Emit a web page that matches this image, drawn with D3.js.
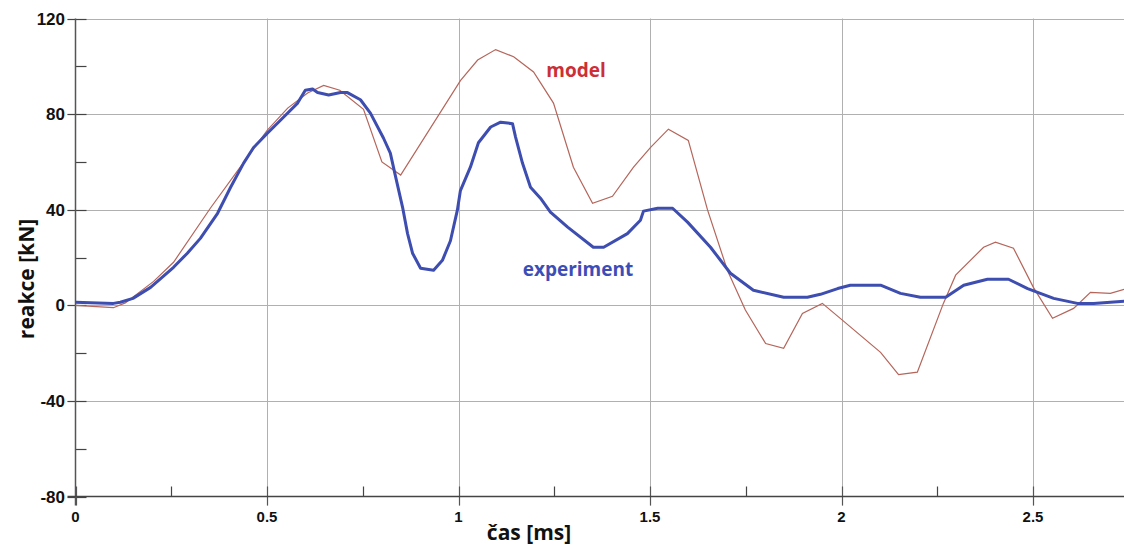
<!DOCTYPE html>
<html><head><meta charset="utf-8">
<script src="https://cdn.jsdelivr.net/npm/d3@7"></script>
<style>body{margin:0;background:#fff}svg{display:block}</style>
</head><body>
<svg id="c" width="1124" height="546"></svg>
<script>
const modelT = [0,0.099,0.13,0.204,0.256,0.352,0.449,0.501,0.554,0.606,0.648,0.69,0.752,0.80,0.849,1.005,1.05,1.097,1.144,1.196,1.248,1.30,1.35,1.402,1.457,1.501,1.548,1.60,1.65,1.702,1.749,1.802,1.849,1.898,1.95,2.003,2.102,2.149,2.198,2.266,2.298,2.371,2.402,2.449,2.501,2.551,2.606,2.65,2.702,2.739];
const modelV = [0,-1,1,10,18,40.6,62,73.3,82.5,88.8,92,90,82,60,54.5,94,102.6,107,104,97.6,84.6,57.8,42.7,45.6,57.8,66,73.7,69,40,14.7,-2,-16,-18,-3.4,0.8,-6.3,-19.7,-29,-28,0.8,12.6,24.3,26.4,23.9,7.5,-5.4,-1.3,5.4,5,6.7];
const expT = [0,0.099,0.117,0.15,0.196,0.256,0.292,0.326,0.371,0.405,0.439,0.465,0.501,0.543,0.58,0.6,0.619,0.632,0.661,0.692,0.71,0.744,0.77,0.804,0.822,0.836,0.854,0.867,0.88,0.901,0.935,0.958,0.979,0.997,1.005,1.031,1.052,1.084,1.11,1.141,1.149,1.167,1.188,1.214,1.24,1.285,1.352,1.379,1.441,1.475,1.483,1.52,1.559,1.598,1.658,1.71,1.77,1.849,1.911,1.945,1.99,2.023,2.102,2.154,2.206,2.272,2.319,2.381,2.436,2.486,2.554,2.616,2.658,2.739];
const expV = [1.3,0.8,1.3,2.9,7.5,15.9,21.8,28,38.5,49.4,59.5,66,72,78.7,84.6,90,90.5,89,88,89,89,86,80.4,70,63.7,53.6,41,30,21.8,15.5,14.7,18.8,27,39.8,48,57.8,68,74.6,76.6,76,70.4,59.5,49.4,44.8,39,32.7,24.3,24.3,30,35.6,39.4,40.6,40.6,34.8,24.3,13.4,6.3,3.4,3.4,4.6,7,8.4,8.4,5,3.4,3.4,8.4,10.9,10.9,7,2.9,0.8,0.8,1.7];
const xMajor = [0,0.5,1,1.5,2,2.5];
const xMinor = [0.25,0.75,1.25,1.75,2.25,2.75];
const yMajor = [-80,-40,0,40,80,120];
const yMinor = [-60,-20,20,60,100];
const xLabels = ["0","0.5","1","1.5","2","2.5"];
const yLabels = ["-80","-40","0","40","80","120"];

const svg = d3.select("#c");
const L = 75.5, R = 1124;
const x = d3.scaleLinear().domain([0, 1]).range([L, L + 383]);
const y = d3.scaleLinear().domain([-80, 120]).range([496.5, 18.5]);
const xMax = x.invert(R);

// grid
const g = svg.append("g");
g.selectAll(".gx").data(xMajor.filter(d=>d>0)).join("line")
  .attr("x1", d=>Math.round(x(d))+0.5).attr("x2", d=>Math.round(x(d))+0.5)
  .attr("y1", y(120)).attr("y2", y(-80)+9).attr("stroke", "#b0b0b0").attr("stroke-width", 1);
g.selectAll(".gy").data(yMajor.filter(d=>d>-80)).join("line")
  .attr("x1", L-8).attr("x2", R).attr("y1", d=>Math.round(y(d))+0.5).attr("y2", d=>Math.round(y(d))+0.5)
  .attr("stroke", "#b0b0b0").attr("stroke-width", 1);
// ticks
g.selectAll(".ty").data(yMajor).join("line")
  .attr("x1", L-8).attr("x2", L+11).attr("y1", d=>Math.round(y(d))+0.5).attr("y2", d=>Math.round(y(d))+0.5)
  .attr("stroke", "#444").attr("stroke-width", 1.2);
g.selectAll(".tym").data(yMinor).join("line")
  .attr("x1", L).attr("x2", L+11).attr("y1", d=>Math.round(y(d))+0.5).attr("y2", d=>Math.round(y(d))+0.5)
  .attr("stroke", "#444").attr("stroke-width", 1.2);
g.selectAll(".txm").data(xMinor.filter(d=>d<xMax)).join("line")
  .attr("x1", d=>Math.round(x(d))+0.5).attr("x2", d=>Math.round(x(d))+0.5)
  .attr("y1", y(-80)-10).attr("y2", y(-80)).attr("stroke", "#444").attr("stroke-width", 1.2);
g.selectAll(".tx").data(xMajor).join("line")
  .attr("x1", d=>Math.round(x(d))+0.5).attr("x2", d=>Math.round(x(d))+0.5)
  .attr("y1", y(-80)-10).attr("y2", y(-80)+9).attr("stroke", "#555").attr("stroke-width", 1.2);
// axes
g.append("line").attr("x1", L).attr("x2", L).attr("y1", y(120)).attr("y2", y(-80)+9).attr("stroke", "#555").attr("stroke-width", 1.5);
g.append("line").attr("x1", L-8).attr("x2", R).attr("y1", y(-80)).attr("y2", y(-80)).attr("stroke", "#444").attr("stroke-width", 1.5);

// tick labels
svg.selectAll(".yl").data(yMajor).join("text")
  .attr("x", 65).attr("y", d=>y(d)).attr("dy", "0.36em").attr("text-anchor", "end")
  .attr("font-family", "Liberation Sans, Arial, sans-serif").attr("font-weight", "bold").attr("font-size", 17)
  .attr("fill", "#111").text((d,i)=>yLabels[i]);
svg.selectAll(".xl").data(xMajor).join("text")
  .attr("x", d=>x(d)).attr("y", 522).attr("text-anchor", "middle")
  .attr("font-family", "Liberation Sans, Arial, sans-serif").attr("font-weight", "bold").attr("font-size", 15)
  .attr("fill", "#111").text((d,i)=>xLabels[i]);

// axis titles
svg.append("text").attr("x", 529).attr("y", 540).attr("text-anchor", "middle")
  .attr("font-family", "Open Sans, sans-serif").attr("font-weight", "bold").attr("font-size", 21)
  .attr("fill", "#111").text("čas [ms]");
svg.append("text").attr("transform", "translate(34,279) rotate(-90)").attr("text-anchor", "middle")
  .attr("font-family", "Open Sans, sans-serif").attr("font-weight", "bold").attr("font-size", 21)
  .attr("fill", "#111").text("reakce [kN]");

// lines
const line = d3.line().x(d=>x(d[0])).y(d=>y(d[1]));
svg.append("path").datum(modelT.map((t,i)=>[t, modelV[i]]))
  .attr("d", line).attr("fill", "none").attr("stroke", "#b5655a").attr("stroke-width", 1.2);
svg.append("path").datum(expT.map((t,i)=>[t, expV[i]]))
  .attr("d", line).attr("fill", "none").attr("stroke", "#3d4db0").attr("stroke-width", 3).attr("stroke-linejoin", "round");

// labels
svg.append("text").attr("x", 576).attr("y", 77).attr("text-anchor", "middle")
  .attr("font-family", "Open Sans, sans-serif").attr("font-weight", "bold").attr("font-size", 19)
  .attr("fill", "#cc2f35").text("model");
svg.append("text").attr("x", 578).attr("y", 276).attr("text-anchor", "middle")
  .attr("font-family", "Open Sans, sans-serif").attr("font-weight", "bold").attr("font-size", 19)
  .attr("fill", "#3d4db8").text("experiment");
</script>
</body></html>
